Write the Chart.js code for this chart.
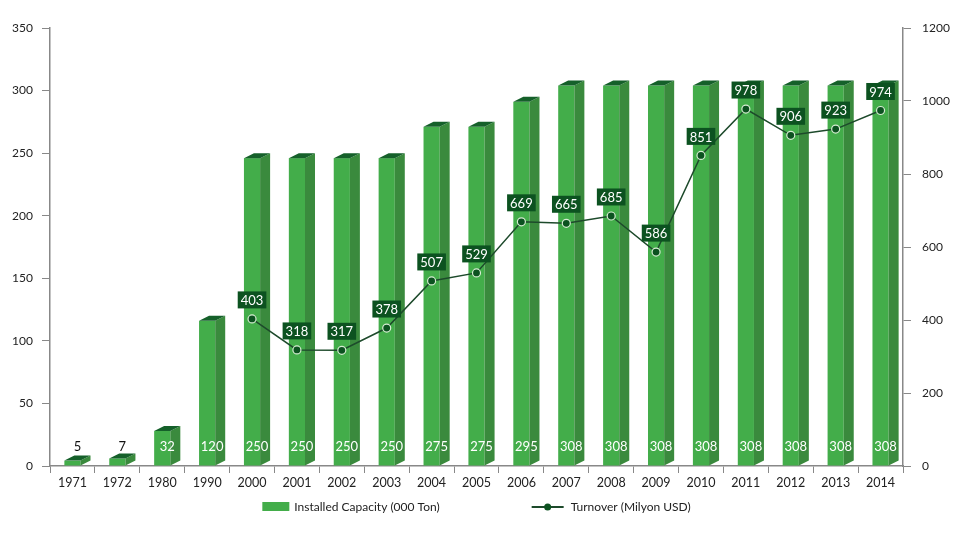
<!DOCTYPE html>
<html>
<head>
<meta charset="utf-8">
<script src="https://cdn.jsdelivr.net/npm/chart.js@4.4.1/dist/chart.umd.min.js"></script>
<style>
  html, body { margin: 0; padding: 0; background: #fff; }
  #wrap { width: 960px; height: 548px; position: relative; }
</style>
</head>
<body>
<div id="wrap"><canvas id="chart"></canvas></div>
<script>
// chart data
var years = ['1971', '1972', '1980', '1990', '2000', '2001', '2002', '2003', '2004', '2005',
             '2006', '2007', '2008', '2009', '2010', '2011', '2012', '2013', '2014'];
var capacity = [5, 7, 32, 120, 250, 250, 250, 250, 275, 275, 295, 308, 308, 308, 308, 308, 308, 308, 308];
var turnover = [null, null, null, null, 403, 318, 317, 378, 507, 529, 669, 665, 685, 586, 851, 978, 906, 923, 974];
var leftMax = 350, leftStep = 50;
var rightMax = 1200, rightStep = 200;
var capacityLabel = 'Installed Capacity (000 Ton)';
var turnoverLabel = 'Turnover (Milyon USD)';

var FRONT = '#43ad4a', SIDE = '#3a8a3d', TOP = '#15602a';
var LINE = '#1d4a2b', BOX = '#0c5220';

Chart.defaults.font.family = 'Lato';
Chart.defaults.font.size = 12;
Chart.defaults.color = '#222';

// draws the bars as 3D boxes instead of the flat default
var bars3d = {
    id: 'bars3d',
    beforeDatasetDraw: function (chart, args) {
        if (args.index !== 0) return;
        var ctx = chart.ctx;
        var dx = 10, dy = 5;
        ctx.save();
        args.meta.data.forEach(function (bar) {
            var left = bar.x - bar.width / 2, right = bar.x + bar.width / 2;
            var base = bar.base;
            var top = bar.y + Math.min(5, (base - bar.y) * 0.15);
            ctx.fillStyle = FRONT;
            ctx.fillRect(left, top, bar.width, base - top);
            ctx.fillStyle = SIDE;
            ctx.beginPath();
            ctx.moveTo(right, top);
            ctx.lineTo(right + dx, top - dy);
            ctx.lineTo(right + dx, base - dy);
            ctx.lineTo(right, base);
            ctx.closePath();
            ctx.fill();
            ctx.fillStyle = TOP;
            ctx.beginPath();
            ctx.moveTo(left, top);
            ctx.lineTo(left + dx, top - dy);
            ctx.lineTo(right + dx, top - dy);
            ctx.lineTo(right, top);
            ctx.closePath();
            ctx.fill();
        });
        ctx.restore();
        return false;
    }
};

// value labels for bars and line points
var valueLabels = {
    id: 'valueLabels',
    afterDatasetsDraw: function (chart) {
        var ctx = chart.ctx;
        ctx.save();
        ctx.font = '13px Lato';
        ctx.textAlign = 'center';
        ctx.textBaseline = 'middle';
        chart.getDatasetMeta(0).data.forEach(function (bar, i) {
            var v = capacity[i];
            ctx.fillStyle = (bar.base - bar.y) > 25 ? '#fff' : '#111';
            ctx.fillText(String(v), bar.x + 5, bar.base - 19);
        });
        chart.getDatasetMeta(1).data.forEach(function (pt, i) {
            var v = turnover[i];
            if (v === null) return;
            var txt = String(v);
            var w = ctx.measureText(txt).width + 6, h = 17;
            var cy = pt.y - 19;
            ctx.fillStyle = BOX;
            ctx.fillRect(pt.x - w / 2, cy - h / 2, w, h);
            ctx.fillStyle = '#fff';
            ctx.fillText(txt, pt.x, cy + 1);
        });
        ctx.restore();
    }
};

// legend row under the axis
var bottomLegend = {
    id: 'bottomLegend',
    afterDraw: function (chart) {
        var ctx = chart.ctx;
        var a = chart.chartArea;
        var y = a.bottom + 41;
        ctx.save();
        ctx.font = '12px Lato';
        ctx.textBaseline = 'middle';
        ctx.textAlign = 'left';
        var w1 = ctx.measureText(capacityLabel).width;
        var w2 = ctx.measureText(turnoverLabel).width;
        var total = 27 + 5 + w1 + 92 + 32 + 7 + w2;
        var x = (a.left + a.right) / 2 - total / 2;
        ctx.fillStyle = FRONT;
        ctx.fillRect(x, y - 5, 27, 9);
        ctx.fillStyle = '#222';
        ctx.fillText(capacityLabel, x + 32, y);
        x += 32 + w1 + 92;
        ctx.strokeStyle = LINE;
        ctx.lineWidth = 2;
        ctx.beginPath();
        ctx.moveTo(x, y);
        ctx.lineTo(x + 32, y);
        ctx.stroke();
        ctx.fillStyle = BOX;
        ctx.beginPath();
        ctx.arc(x + 16, y, 3.5, 0, Math.PI * 2);
        ctx.fill();
        ctx.fillStyle = '#222';
        ctx.fillText(turnoverLabel, x + 39, y);
        ctx.restore();
    }
};

var ctx = document.getElementById('chart').getContext('2d');
var chart = new Chart(ctx, {
    type: 'bar',
    data: {
        labels: years,
        datasets: [{
            type: 'bar',
            label: capacityLabel,
            data: capacity,
            backgroundColor: FRONT,
            barPercentage: 0.36,
            categoryPercentage: 1,
            yAxisID: 'y',
            order: 1
        }, {
            type: 'line',
            label: turnoverLabel,
            data: turnover,
            borderColor: LINE,
            borderWidth: 1.5,
            pointRadius: 4,
            pointBackgroundColor: BOX,
            pointBorderColor: '#d6ecd2',
            pointBorderWidth: 1.2,
            spanGaps: false,
            yAxisID: 'y1',
            order: 0
        }]
    },
    options: {
        responsive: true,
        maintainAspectRatio: false,
        animation: false,
        layout: { padding: { top: 28, bottom: 0, left: 0, right: 0 } },
        plugins: {
            legend: { display: false },
            tooltip: { enabled: false }
        },
        scales: {
            x: {
                offset: true,
                grid: { display: true, offset: true, drawOnChartArea: false, drawTicks: true, tickLength: 7, color: '#888' },
                border: { color: '#888', width: 1.5 },
                ticks: { padding: 2, color: '#222', maxRotation: 0, autoSkip: false, font: { size: 12.5 } },
                afterFit: function (scale) { scale.height = 82; }
            },
            y: {
                position: 'left',
                min: 0,
                max: leftMax,
                grid: { drawOnChartArea: false, tickLength: 8, color: '#888' },
                border: { color: '#888', width: 1.5 },
                ticks: { stepSize: leftStep, padding: 9, color: '#222' },
                afterFit: function (scale) { scale.width = 50; }
            },
            y1: {
                position: 'right',
                min: 0,
                max: rightMax,
                grid: { drawOnChartArea: false, tickLength: 8, color: '#888' },
                border: { color: '#888', width: 1.5 },
                ticks: {
                    stepSize: rightStep, padding: 11, color: '#222',
                    callback: function (v) { return String(v); }
                },
                afterFit: function (scale) { scale.width = 57; }
            }
        }
    },
    plugins: [bars3d, valueLabels, bottomLegend]
});
</script>
</body>
</html>
